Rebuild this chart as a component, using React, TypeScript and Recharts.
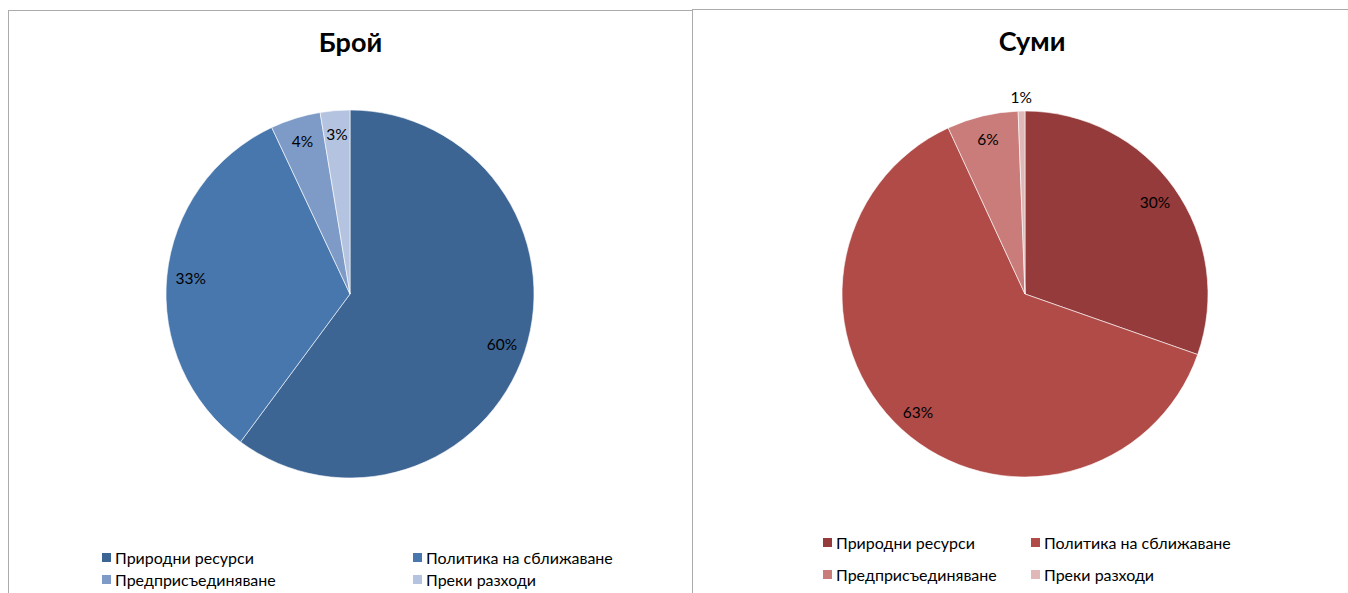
import { PieChart, Pie, Cell } from "recharts";

const categories = [
  "Природни ресурси",
  "Политика на сближаване",
  "Предприсъединяване",
  "Преки разходи",
];

// shares in %
const countValues = [60.2, 32.9, 4.4, 2.6];
const amountValues = [30.4, 62.8, 6.3, 0.6];

const countTitle = "Брой";
const amountTitle = "Суми";

const blueColors = ["#3D6594", "#4877AE", "#7E9BC8", "#B4C4E0"];
const redColors = ["#953B3B", "#B14B48", "#CA7C7A", "#E0B8B8"];

const FONT = "Lato, 'Open Sans', sans-serif";
const RAD = Math.PI / 180;

// eslint-disable-next-line @typescript-eslint/no-explicit-any
function renderLabel({ cx, cy, midAngle, outerRadius, percent }: any) {
  // tiny slices get their label outside, like Excel's best fit
  const r = percent < 0.02 ? outerRadius + 14 : outerRadius * 0.87;
  const x = cx + r * Math.cos(-midAngle * RAD);
  const y = cy + r * Math.sin(-midAngle * RAD);
  return (
    <text
      x={x}
      y={y}
      textAnchor="middle"
      dominantBaseline="central"
      fontSize={15.5}
      fontFamily={FONT}
      fill="#000"
    >
      {`${Math.round(percent * 100)}%`}
    </text>
  );
}

interface PanelProps {
  title: string;
  values: number[];
  colors: string[];
  left: number;
  top: number;
  width: number;
  cx: number;
  cy: number;
  radius: number;
  legendLeft: number;
  legendTop: number;
  legendCol: number;
  legendRow: number;
}

function Panel(p: PanelProps) {
  const data = categories.map((name, i) => ({ name, value: p.values[i] }));
  return (
    <div
      style={{
        position: "absolute",
        left: p.left,
        top: p.top,
        width: p.width,
        height: 700,
        border: "1px solid #ABABAB",
        boxSizing: "border-box",
        background: "#fff",
      }}
    >
      <div
        style={{
          position: "absolute",
          left: 0,
          top: 14,
          width: "100%",
          textAlign: "center",
          fontFamily: FONT,
          fontWeight: 700,
          fontSize: 27,
          color: "#000",
        }}
      >
        {p.title}
      </div>
      <div style={{ position: "absolute", left: 0, top: 0 }}>
        <PieChart
          width={p.width - 2}
          height={583}
          margin={{ top: 0, right: 0, bottom: 0, left: 0 }}
        >
          <Pie
            data={data}
            dataKey="value"
            nameKey="name"
            cx={p.cx}
            cy={p.cy}
            outerRadius={p.radius}
            startAngle={90}
            endAngle={-270}
            stroke="#fff"
            strokeWidth={0.6}
            label={renderLabel}
            labelLine={false}
            isAnimationActive={false}
          >
            {data.map((d, i) => (
              <Cell key={d.name} fill={p.colors[i]} />
            ))}
          </Pie>
        </PieChart>
      </div>
      {categories.map((name, i) => (
        <div
          key={name}
          style={{
            position: "absolute",
            left: p.legendLeft + (i % 2) * p.legendCol,
            top: p.legendTop + Math.floor(i / 2) * p.legendRow,
            display: "flex",
            alignItems: "center",
            fontFamily: FONT,
            fontSize: 16,
            color: "#000",
            whiteSpace: "nowrap",
          }}
        >
          <span
            style={{
              display: "inline-block",
              width: 9,
              height: 9,
              background: p.colors[i],
              marginRight: 4,
            }}
          />
          {name}
        </div>
      ))}
    </div>
  );
}

export default function App() {
  return (
    <div
      style={{
        position: "fixed",
        left: 0,
        top: 0,
        width: 1348,
        height: 593,
        overflow: "hidden",
        background: "#fff",
      }}
    >
      <Panel
        title={countTitle}
        values={countValues}
        colors={blueColors}
        left={8}
        top={10}
        width={685}
        cx={341}
        cy={283}
        radius={184}
        legendLeft={93}
        legendTop={537}
        legendCol={311}
        legendRow={22}
      />
      <Panel
        title={amountTitle}
        values={amountValues}
        colors={redColors}
        left={692}
        top={9}
        width={680}
        cx={332}
        cy={284}
        radius={183}
        legendLeft={130}
        legendTop={523}
        legendCol={208}
        legendRow={32}
      />
    </div>
  );
}
